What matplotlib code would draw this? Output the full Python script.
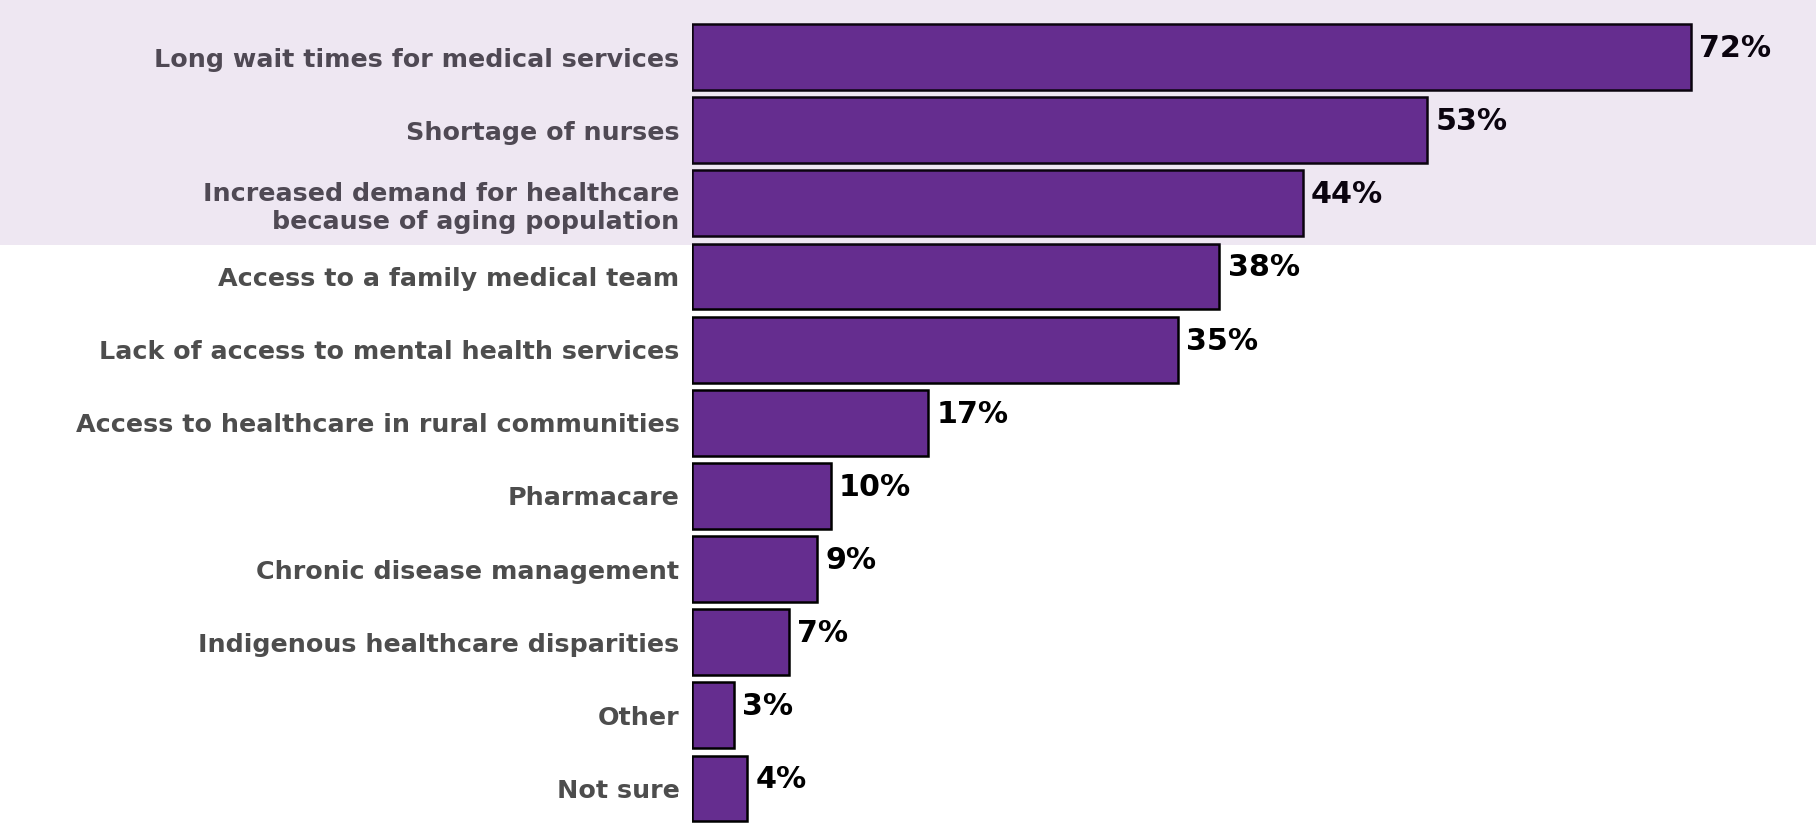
import matplotlib

matplotlib.use("Agg")
import matplotlib.pyplot as plt
from matplotlib.patches import Rectangle
from matplotlib.transforms import blended_transform_factory

CATEGORIES = [
    "Long wait times for medical services",
    "Shortage of nurses",
    "Increased demand for healthcare\nbecause of aging population",
    "Access to a family medical team",
    "Lack of access to mental health services",
    "Access to healthcare in rural communities",
    "Pharmacare",
    "Chronic disease management",
    "Indigenous healthcare disparities",
    "Other",
    "Not sure",
]
PERCENTS = [72, 53, 44, 38, 35, 17, 10, 9, 7, 3, 4]
HIGHLIGHTED = 3  # top issues shaded

PURPLE = "#652D8F"
LABEL = "#4D4D4D"

fig = plt.figure(figsize=(18.16, 8.25), dpi=100)
ax = fig.add_axes([0.381, 0.0, 0.619, 1.0])

y = list(range(len(CATEGORIES)))
bars = ax.barh(y, PERCENTS, height=0.9, color=PURPLE, edgecolor="black", linewidth=1.8)

for bar, value in zip(bars, PERCENTS):
    ax.annotate(
        f"{value}%",
        xy=(bar.get_width(), bar.get_y() + bar.get_height() / 2),
        xytext=(6, 0),
        textcoords="offset points",
        ha="left",
        va="baseline",
        fontsize=21.7,
        fontweight="bold",
        color="black",
    )

ax.set_yticks(y)
ax.set_yticklabels(CATEGORIES, fontsize=18.3, fontweight="bold", color=LABEL)
ax.tick_params(axis="y", length=0, pad=9)
ax.set_xticks([])
ax.set_xlim(0, 81)
ax.set_ylim(10.5, -0.78)
for spine in ax.spines.values():
    spine.set_visible(False)

# translucent band across the whole figure over the leading issues
trans = blended_transform_factory(fig.transFigure, ax.transData)
band = Rectangle(
    (0, -0.78), 1, HIGHLIGHTED - 0.43 + 0.78,
    transform=trans, facecolor=PURPLE, alpha=0.11, edgecolor="none", zorder=5,
)
fig.patches.append(band)

fig.savefig("out.png", dpi=100)
